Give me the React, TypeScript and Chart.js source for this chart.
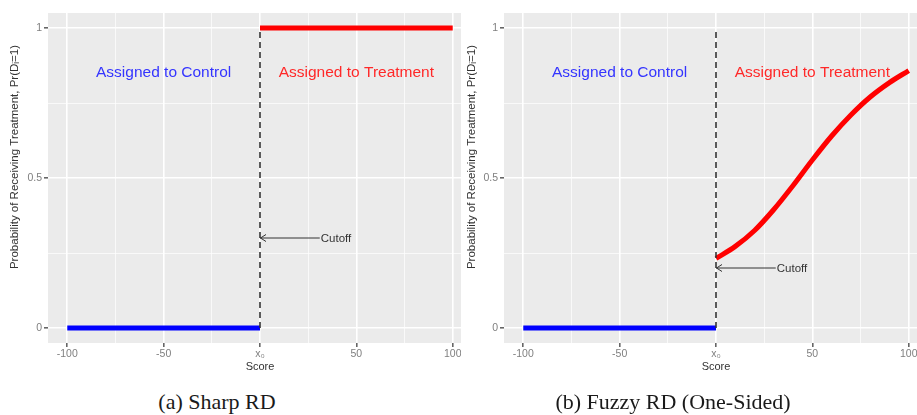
import React, { useEffect, useRef } from 'react';
import { Chart, registerables } from 'chart.js';

Chart.register(...registerables);

// ---------- data ----------
const xGridValues = [-100, -75, -50, -25, 0, 25, 50, 75, 100];
const xMajorValues = [-100, -50, 0, 50, 100];
const xTickLabels = ['-100', '-50', 'x\u2080', '50', '100'];
const yGridValues = [0, 0.25, 0.5, 0.75, 1];
const yMajorValues = [0, 0.5, 1];
const yTickLabels = ['0', '0.5', '1'];

const controlX = [-100, 0];
const controlY = [0, 0];
const sharpTreatX = [0, 100];
const sharpTreatY = [1, 1];
const fuzzyTreatX = [0, 10, 20, 30, 40, 50, 60, 70, 80, 90, 100];
const fuzzyTreatY = [0.232, 0.272, 0.325, 0.395, 0.475, 0.56, 0.64, 0.71, 0.77, 0.818, 0.858];
const cutoffLineX = [0, 0];
const cutoffLineY = [0, 1];
const sharpArrowX = [0, 31];
const sharpArrowY = [0.3, 0.3];
const fuzzyArrowX = [0, 31];
const fuzzyArrowY = [0.2, 0.2];
const regionLabels = ['Assigned to Control', 'Assigned to Treatment'];
const regionLabelX = [-50, 50];
const regionLabelY = [0.851, 0.851];
const cutoffText = 'Cutoff';
const xTitle = 'Score';
const yTitle = 'Probability of Receiving Treatment, Pr(D\u1D62=1)';
const captions = ['(a) Sharp RD', '(b) Fuzzy RD (One-Sided)'];

const SANS = '"Liberation Sans", Arial, sans-serif';
const SERIF = '"Liberation Serif", "Times New Roman", serif';

const zip = (xs: number[], ys: number[]) => xs.map((x, i) => ({ x, y: ys[i] }));

type PanelSpec = {
  treatX: number[];
  treatY: number[];
  arrowX: number[];
  arrowY: number[];
  yAxisWidth: number;
  yTitleOffset: number;
};

function makeConfig(p: PanelSpec): any {
  const overlay = {
    id: 'overlay',
    beforeDraw(chart: any) {
      const { ctx, chartArea: a } = chart;
      ctx.save();
      ctx.fillStyle = '#ebebeb';
      ctx.fillRect(a.left, a.top, a.right - a.left, a.bottom - a.top);
      ctx.restore();
    },
    afterDatasetsDraw(chart: any) {
      const { ctx } = chart;
      const xs = chart.scales.x;
      const ys = chart.scales.y;
      ctx.save();
      // arrow head (open) at the cutoff end of the arrow
      const tipX = xs.getPixelForValue(p.arrowX[0]);
      const tipY = ys.getPixelForValue(p.arrowY[0]);
      ctx.strokeStyle = '#333';
      ctx.lineWidth = 1;
      ctx.beginPath();
      ctx.moveTo(tipX + 6, tipY - 3.5);
      ctx.lineTo(tipX + 0.5, tipY);
      ctx.lineTo(tipX + 6, tipY + 3.5);
      ctx.stroke();
      // cutoff text
      ctx.fillStyle = '#333';
      ctx.font = `11.5px ${SANS}`;
      ctx.textAlign = 'left';
      ctx.textBaseline = 'middle';
      ctx.fillText(cutoffText, xs.getPixelForValue(p.arrowX[1]) + 1, ys.getPixelForValue(p.arrowY[1]) + 0.5);
      // region labels
      ctx.font = `15.5px ${SANS}`;
      ctx.textAlign = 'center';
      const cols = ['rgb(52,52,255)', 'rgb(255,40,40)'];
      regionLabels.forEach((t, i) => {
        ctx.fillStyle = cols[i];
        ctx.fillText(t, xs.getPixelForValue(regionLabelX[i]), ys.getPixelForValue(regionLabelY[i]));
      });
      // y title
      ctx.translate(p.yTitleOffset, 157);
      ctx.rotate(-Math.PI / 2);
      ctx.fillStyle = '#333';
      ctx.font = `11.5px ${SANS}`;
      ctx.textAlign = 'center';
      ctx.textBaseline = 'middle';
      ctx.fillText(yTitle, 0, 0);
      ctx.restore();
    },
  };

  const isMajorX = (v: number) => xMajorValues.indexOf(v) >= 0;
  const isMajorY = (v: number) => yMajorValues.indexOf(v) >= 0;

  return {
    type: 'scatter',
    data: {
      datasets: [
        {
          data: zip(cutoffLineX, cutoffLineY),
          showLine: true,
          borderColor: '#333',
          borderWidth: 1.6,
          borderDash: [6, 4],
          pointRadius: 0,
        },
        {
          data: zip(controlX, controlY),
          showLine: true,
          borderColor: '#0000ff',
          borderWidth: 5,
          borderCapStyle: 'butt',
          pointRadius: 0,
        },
        {
          data: zip(p.treatX, p.treatY),
          showLine: true,
          borderColor: '#ff0000',
          borderWidth: 5,
          borderCapStyle: 'butt',
          cubicInterpolationMode: 'monotone',
          pointRadius: 0,
        },
        {
          data: zip(p.arrowX, p.arrowY),
          showLine: true,
          borderColor: '#333',
          borderWidth: 1,
          pointRadius: 0,
        },
      ],
    },
    options: {
      animation: false,
      responsive: false,
      maintainAspectRatio: false,
      events: [],
      layout: { padding: { top: 13, left: 0, right: 0, bottom: 0 } },
      plugins: { legend: { display: false }, tooltip: { enabled: false } },
      scales: {
        x: {
          type: 'linear',
          min: -110,
          max: 110,
          afterBuildTicks: (axis: any) => {
            axis.ticks = xGridValues.map((v) => ({ value: v }));
          },
          afterFit: (axis: any) => {
            axis.height = 31;
          },
          border: { display: false },
          grid: {
            color: '#ffffff',
            lineWidth: (c: any) => (c.tick && isMajorX(c.tick.value) ? 1.6 : 0.7),
            tickColor: (c: any) => (c.tick && isMajorX(c.tick.value) ? '#666' : 'rgba(0,0,0,0)'),
            tickLength: 4,
          },
          ticks: {
            autoSkip: false,
            maxRotation: 0,
            padding: 1,
            color: '#7f7f7f',
            font: { family: SANS, size: 10.5 },
            callback: (v: any) => {
              const i = xMajorValues.indexOf(v);
              return i >= 0 ? xTickLabels[i] : '';
            },
          },
          title: {
            display: true,
            text: xTitle,
            color: '#333',
            font: { family: SANS, size: 11 },
            padding: { top: 0, bottom: 0 },
          },
        },
        y: {
          type: 'linear',
          min: -0.05,
          max: 1.05,
          afterBuildTicks: (axis: any) => {
            axis.ticks = yGridValues.map((v) => ({ value: v }));
          },
          afterFit: (axis: any) => {
            axis.width = p.yAxisWidth;
          },
          border: { display: false },
          grid: {
            color: '#ffffff',
            lineWidth: (c: any) => (c.tick && isMajorY(c.tick.value) ? 1.6 : 0.7),
            tickColor: (c: any) => (c.tick && isMajorY(c.tick.value) ? '#666' : 'rgba(0,0,0,0)'),
            tickLength: 4,
          },
          ticks: {
            autoSkip: false,
            padding: 2,
            color: '#7f7f7f',
            font: { family: SANS, size: 10.5 },
            callback: (v: any) => {
              const i = yMajorValues.indexOf(v);
              return i >= 0 ? yTickLabels[i] : '';
            },
          },
        },
      },
    },
    plugins: [overlay],
  };
}

function Panel(props: { spec: PanelSpec; left: number; width: number }) {
  const ref = useRef<HTMLCanvasElement | null>(null);
  useEffect(() => {
    if (!ref.current) return;
    const chart = new Chart(ref.current, makeConfig(props.spec));
    return () => chart.destroy();
  }, []);
  return (
    <div style={{ position: 'absolute', left: props.left, top: 0, width: props.width, height: 374, background: '#fff' }}>
      <canvas ref={ref} width={props.width} height={374} style={{ display: 'block' }} />
    </div>
  );
}

export default function App() {
  const sharp: PanelSpec = {
    treatX: sharpTreatX,
    treatY: sharpTreatY,
    arrowX: sharpArrowX,
    arrowY: sharpArrowY,
    yAxisWidth: 48,
    yTitleOffset: 15,
  };
  const fuzzy: PanelSpec = {
    treatX: fuzzyTreatX,
    treatY: fuzzyTreatY,
    arrowX: fuzzyArrowX,
    arrowY: fuzzyArrowY,
    yAxisWidth: 43,
    yTitleOffset: 11,
  };
  return (
    <div style={{ position: 'fixed', left: 0, top: 0, width: 917, height: 415, overflow: 'hidden', background: '#fff' }}>
      <Panel spec={sharp} left={0} width={472} />
      <Panel spec={fuzzy} left={461} width={467} />
      {captions.map((c, i) => (
        <div
          key={c}
          style={{
            position: 'absolute',
            left: i === 0 ? 217 - 200 : 673 - 200,
            width: 400,
            top: 391,
            textAlign: 'center',
            fontFamily: SERIF,
            fontSize: 22,
            lineHeight: '22px',
            color: '#1a1a1a',
            whiteSpace: 'nowrap',
          }}
        >
          {c}
        </div>
      ))}
    </div>
  );
}
